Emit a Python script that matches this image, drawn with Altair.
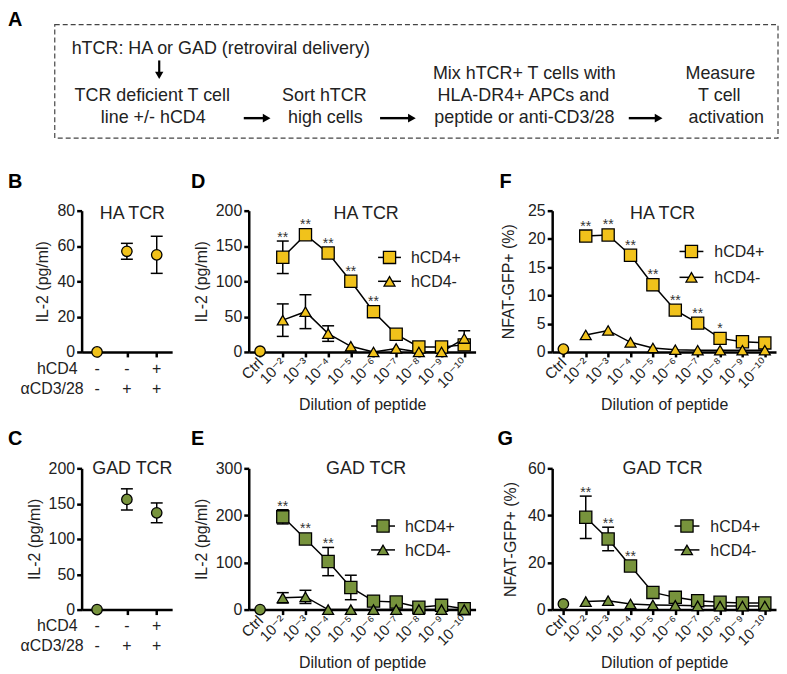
import altair as alt
import pandas as pd

FONT = "Liberation Sans, Arial, Helvetica, DejaVu Sans, sans-serif"
INK = "#222222"
YELLOW = "#F1C21B"
GREEN = "#77933C"

# ---------------- data ----------------
dilutions = ["Ctrl", "10⁻²", "10⁻³", "10⁻⁴", "10⁻⁵", "10⁻⁶", "10⁻⁷", "10⁻⁸", "10⁻⁹", "10⁻¹⁰"]
series_labels = ["hCD4+", "hCD4-"]

stim_hcd4 = ["-", "-", "+"]
stim_acd3 = ["-", "+", "+"]
b_il2 = [0, 57, 55]
b_il2_err = [0, 4.5, 10.5]
c_il2 = [0, 156, 137]
c_il2_err = [0, 15, 14]

d_ctrl = 1
d_plus = [134, 166, 140, 100, 57, 25, 7, 7, 10]
d_plus_err = [23, 3, 5, 5, 3, 3, 2, 2, 4]
d_minus = [45, 57, 26, 8, 0, 5, 0, 0, 19]
d_minus_err = [23, 24, 11, 3, 1, 2, 1, 1, 11]
d_stars = ["**", "**", "**", "**", "**", "", "", "", ""]

e_ctrl = 0
e_plus = [197, 150, 102, 47, 18, 16, 5, 9, 2]
e_plus_err = [15, 5, 30, 26, 5, 5, 3, 3, 2]
e_minus = [25, 27, 0, 0, 0, 0, 0, 0, 0]
e_minus_err = [11, 14, 1, 1, 1, 1, 1, 1, 1]
e_stars = ["**", "**", "**", "", "", "", "", "", ""]

f_ctrl = 0.5
f_plus = [20.5, 20.7, 17.1, 11.9, 7.4, 5.1, 2.4, 1.8, 1.6]
f_plus_err = [0.4, 0.4, 0.5, 1.0, 0.5, 0.4, 0.3, 0.2, 0.2]
f_minus = [3.0, 3.8, 1.7, 0.7, 0.4, 0.3, 0.3, 0.3, 0.3]
f_minus_err = [0.2, 0.2, 0.2, 0.1, 0.1, 0.1, 0.1, 0.1, 0.1]
f_stars = ["**", "**", "**", "**", "**", "**", "*", "", ""]

g_ctrl = 2.4
g_plus = [39.2, 30, 18.5, 7.3, 5.2, 3.8, 3.1, 2.8, 2.8]
g_plus_err = [9, 5, 2.2, 0.6, 0.4, 0.3, 0.3, 0.3, 0.3]
g_minus = [3.4, 3.8, 2.4, 2.0, 1.8, 1.6, 1.5, 1.5, 1.5]
g_minus_err = [0.3, 0.3, 0.3, 0.2, 0.2, 0.2, 0.2, 0.2, 0.2]
g_stars = ["**", "**", "**", "", "", "", "", "", ""]

diagram_text = ["hTCR: HA or GAD (retroviral delivery)",
                "TCR deficient T cell", "line +/- hCD4",
                "Sort hTCR", "high cells",
                "Mix hTCR+ T cells with", "HLA-DR4+ APCs and", "peptide or anti-CD3/28",
                "Measure", "T cell", "activation"]
panel_letters = ["A", "B", "C", "D", "E", "F", "G"]
panel_titles = ["HA TCR", "HA TCR", "HA TCR", "GAD TCR", "GAD TCR", "GAD TCR"]

# ---------------- layout (page pixel coordinates) ----------------
SIZE = {"square": 150, "triangle-up": 120, "circle": 110}
COLW = [91, 228, 225]
ROWH = 142
PX0, PY0, PW, PH = 82, 53, 91, 40

diag_pos = [(72, 53, "left"),
            (153, 100, "center"), (154, 122, "center"),
            (326, 100, "center"), (327, 122, "center"),
            (527, 78, "center"), (526, 100, "center"), (527, 122, "center"),
            (724, 78, "center"), (723, 100, "center"), (730, 122, "center")]
h_arrows = [(245, 272, 117), (382, 418, 117), (632, 666, 117)]
v_arrow = (160, 59, 78)
box = (55, 23, 782, 137)
letter_pos = [(8, 8), (8, 187), (8, 446), (192, 187), (192, 446), (502, 187), (500, 446)]
title_pos = [(133, 218), (368, 218), (666, 218), (133, 475), (368, 475), (666, 475)]
legend_pos = [  # x1, x2, y(+), y(-), text x, colour
    (380, 403, 257, 281, 413, YELLOW),
    (683, 707, 251, 277, 718, YELLOW),
    (373, 397, 527, 551, 407, GREEN),
    (678, 703, 527, 551, 714, GREEN),
]


def px(field):
    return alt.X(f"{field}:Q", scale=alt.Scale(domain=[PX0, PX0 + PW], nice=False, zero=False), axis=None)


def py(field):
    return alt.Y(f"{field}:Q", scale=alt.Scale(domain=[PY0 + PH, PY0], nice=False, zero=False), axis=None)


# ---------------- page-level annotation chart (panel A etc.) ----------------
anchor_df = pd.DataFrame({"x": [8], "x2": [9], "y": [8], "y2": [9]})
anchor = alt.Chart(anchor_df).mark_rect(opacity=0).encode(
    x=px("x"), x2="x2:Q", y=py("y"), y2="y2:Q")

box_df = pd.DataFrame({"x": [box[0]], "x2": [box[2]], "y": [box[1]], "y2": [box[3]]})
box_layer = alt.Chart(box_df).mark_rect(fillOpacity=0, stroke="#444444", strokeWidth=1.2,
                                        strokeDash=[5, 3]).encode(
    x=px("x"), x2="x2:Q", y=py("y"), y2="y2:Q")

dt = pd.DataFrame({"t": diagram_text,
                   "x": [p[0] for p in diag_pos],
                   "y": [p[1] for p in diag_pos],
                   "al": [p[2] for p in diag_pos]})
diag_left = alt.Chart(dt[dt.al == "left"]).mark_text(
    align="left", baseline="alphabetic", fontSize=18, color=INK).encode(
    x=px("x"), y=py("y"), text="t:N")
diag_center = alt.Chart(dt[dt.al == "center"]).mark_text(
    align="center", baseline="alphabetic", fontSize=18, color=INK).encode(
    x=px("x"), y=py("y"), text="t:N")

ar_df = pd.DataFrame({"x": [a[0] for a in h_arrows], "x2": [a[1] - 6 for a in h_arrows],
                      "xh": [a[1] - 4 for a in h_arrows], "y": [a[2] for a in h_arrows]})
ar_lines = alt.Chart(ar_df).mark_rule(color="black", strokeWidth=2.4).encode(
    x=px("x"), x2="x2:Q", y=py("y"))
ar_heads = alt.Chart(ar_df).mark_point(shape="triangle-right", filled=True, opacity=1,
                                       color="black", size=80).encode(x=px("xh"), y=py("y"))
va_df = pd.DataFrame({"x": [v_arrow[0]], "y": [v_arrow[1]], "y2": [v_arrow[2] - 6],
                      "yh": [v_arrow[2] - 4]})
va_line = alt.Chart(va_df).mark_rule(color="black", strokeWidth=2.2).encode(
    x=px("x"), y=py("y"), y2="y2:Q")
va_head = alt.Chart(va_df).mark_point(shape="triangle-down", filled=True, opacity=1,
                                      color="black", size=70).encode(x=px("x"), y=py("yh"))

let_df = pd.DataFrame({"t": panel_letters, "x": [p[0] for p in letter_pos],
                       "y": [p[1] for p in letter_pos]})
let_top = alt.Chart(let_df.iloc[:1]).mark_text(
    align="left", baseline="top", fontSize=20, fontWeight="bold", color="black").encode(
    x=px("x"), y=py("y"), text="t:N")
let_rest = alt.Chart(let_df.iloc[1:]).mark_text(
    align="left", baseline="alphabetic", fontSize=20, fontWeight="bold", color="black").encode(
    x=px("x"), y=py("y"), text="t:N")

tit_df = pd.DataFrame({"t": panel_titles, "x": [p[0] for p in title_pos],
                       "y": [p[1] for p in title_pos]})
titles = alt.Chart(tit_df).mark_text(align="center", baseline="alphabetic", fontSize=18,
                                     color=INK).encode(x=px("x"), y=py("y"), text="t:N")

leg_rows = []
for (x1, x2, yp, ym, xt, col) in legend_pos:
    for lab, yy, shp in zip(series_labels, [yp, ym], ["square", "triangle-up"]):
        leg_rows.append({"x": x1, "x2": x2, "xm": (x1 + x2) / 2, "y": yy, "xt": xt,
                         "label": lab, "shape": shp, "fill": col, "msize": SIZE[shp]})
leg_df = pd.DataFrame(leg_rows)
leg_lines = alt.Chart(leg_df).mark_rule(color="black", strokeWidth=1.5).encode(
    x=px("x"), x2="x2:Q", y=py("y"))
leg_marks = alt.Chart(leg_df).mark_point(filled=True, opacity=1, stroke="black",
                                         strokeWidth=1.3).encode(
    x=px("xm"), y=py("y"), shape=alt.Shape("shape:N", scale=None),
    fill=alt.Fill("fill:N", scale=None), size=alt.Size("msize:Q", scale=None))
leg_text = alt.Chart(leg_df).mark_text(align="left", baseline="middle", fontSize=16,
                                       dy=1, color=INK).encode(
    x=px("xt"), y=py("y"), text="label:N")

page = alt.layer(anchor, box_layer, diag_left, diag_center, ar_lines, ar_heads, va_line,
                 va_head, let_top, let_rest, titles, leg_lines, leg_marks, leg_text
                 ).properties(width=PW, height=PH)


def empty(w):
    return alt.Chart(pd.DataFrame({"v": [0]})).mark_point(opacity=0).encode(
        x=alt.X("v:Q", axis=None), y=alt.Y("v:Q", axis=None)).properties(width=w, height=PH)


# ---------------- panels B / C ----------------
def stim_panel(vals, errs, color, ymax, yticks, tpad):
    h = ROWH
    ppu = h / ymax
    cats = ["k0", "k1", "k2"]
    df = pd.DataFrame({
        "cat": cats, "val": vals,
        "lo": [v - e for v, e in zip(vals, errs)],
        "hi": [v + e for v, e in zip(vals, errs)],
        "cap": [e * ppu > 5 for e in errs],
        "hcd4": stim_hcd4, "acd3": stim_acd3,
    })
    X = alt.X("cat:N", scale=alt.Scale(type="point", domain=cats, padding=0.517),
              axis=alt.Axis(labels=False, title=None))
    yax = alt.Axis(title="IL-2 (pg/ml)", values=yticks, titlePadding=tpad)

    def Y(f):
        return alt.Y(f"{f}:Q", scale=alt.Scale(domain=[0, ymax], nice=False), axis=yax)

    base = alt.Chart(df)
    err = base.transform_filter("datum.cap").mark_rule(color="black", strokeWidth=1.5).encode(
        x=X, y=Y("lo"), y2="hi:Q")
    cap_hi = base.transform_filter("datum.cap").mark_tick(
        orient="horizontal", size=12, thickness=1.5, color="black", opacity=1).encode(x=X, y=Y("hi"))
    cap_lo = base.transform_filter("datum.cap").mark_tick(
        orient="horizontal", size=12, thickness=1.5, color="black", opacity=1).encode(x=X, y=Y("lo"))
    pts = base.mark_point(filled=True, opacity=1, fill=color, stroke="black", strokeWidth=1.3,
                          shape="circle", size=SIZE["circle"]).encode(x=X, y=Y("val"))
    r1 = base.mark_text(fontSize=16, baseline="middle", color=INK).encode(
        x=X, y=alt.value(h + 17), text="hcd4:N")
    r2 = base.mark_text(fontSize=16, baseline="middle", color=INK).encode(
        x=X, y=alt.value(h + 37), text="acd3:N")
    hd = pd.DataFrame({"t": ["hCD4", "αCD3/28"], "k": [0, 1]})
    h1 = alt.Chart(hd.iloc[:1]).mark_text(fontSize=16, align="right", baseline="middle",
                                         color=INK).encode(
        x=alt.value(-4), y=alt.value(h + 17), text="t:N")
    h2 = alt.Chart(hd.iloc[1:]).mark_text(fontSize=16, align="right", baseline="middle",
                                         color=INK).encode(
        x=alt.value(2), y=alt.value(h + 37), text="t:N")
    return alt.layer(err, cap_hi, cap_lo, pts, r1, r2, h1, h2).properties(width=COLW[0], height=h)


# ---------------- dilution panels ----------------
def dil_panel(ctrl, plus, plus_err, minus, minus_err, stars, color, ymax, yticks, ytitle,
              width, tpad):
    h = ROWH
    ppu = h / ymax
    rows = [dict(cat=dilutions[0], idx=0, series="ctrl", val=ctrl, lo=ctrl, hi=ctrl,
                 cap=False, shape="circle", msize=SIZE["circle"], star="", anchor=ctrl)]
    for i, c in enumerate(dilutions[1:]):
        for ser, v, e, shp in [("plus", plus[i], plus_err[i], "square"),
                               ("minus", minus[i], minus_err[i], "triangle-up")]:
            rows.append(dict(cat=c, idx=i + 1, series=ser, val=v, lo=max(0, v - e), hi=v + e,
                             cap=e * ppu > 5, shape=shp, msize=SIZE[shp],
                             star=stars[i] if ser == "plus" else "",
                             anchor=max(v + e, v + 6.5 / ppu)))
    df = pd.DataFrame(rows)
    X = alt.X("cat:N", scale=alt.Scale(type="point", domain=dilutions, padding=0.5),
              axis=alt.Axis(title="Dilution of peptide", labelAngle=315, labelAlign="right",
                            labelBaseline="middle", labelFontSize=15, labelPadding=3,
                            titlePadding=6))
    yax = alt.Axis(title=ytitle, values=yticks, titlePadding=tpad, labelFontSize=16)

    def Y(f):
        return alt.Y(f"{f}:Q", scale=alt.Scale(domain=[0, ymax], nice=False), axis=yax)

    base = alt.Chart(df)
    line = base.transform_filter("datum.series != 'ctrl'").mark_line(
        color="black", strokeWidth=1.5).encode(x=X, y=Y("val"), detail="series:N",
                                               order="idx:Q")
    err = base.transform_filter("datum.hi > datum.lo").mark_rule(
        color="black", strokeWidth=1.5).encode(x=X, y=Y("lo"), y2="hi:Q")
    cap_hi = base.transform_filter("datum.cap").mark_tick(
        orient="horizontal", size=12, thickness=1.5, color="black", opacity=1).encode(x=X, y=Y("hi"))
    cap_lo = base.transform_filter("datum.cap").mark_tick(
        orient="horizontal", size=12, thickness=1.5, color="black", opacity=1).encode(x=X, y=Y("lo"))
    pts = base.mark_point(filled=True, opacity=1, fill=color, stroke="black",
                          strokeWidth=1.3).encode(
        x=X, y=Y("val"), shape=alt.Shape("shape:N", scale=None),
        size=alt.Size("msize:Q", scale=None))
    st = base.transform_filter("datum.star != ''").mark_text(
        fontSize=14, baseline="alphabetic", dy=1, color="#333333").encode(
        x=X, y=Y("anchor"), text="star:N")
    return alt.layer(line, err, cap_hi, cap_lo, pts, st).properties(width=width, height=h)


B = stim_panel(b_il2, b_il2_err, YELLOW, 80, [0, 20, 40, 60, 80], 6)
C = stim_panel(c_il2, c_il2_err, GREEN, 200, [0, 50, 100, 150, 200], 6)
D = dil_panel(d_ctrl, d_plus, d_plus_err, d_minus, d_minus_err, d_stars, YELLOW, 200,
              [0, 50, 100, 150, 200], "IL-2 (pg/ml)", COLW[1], 6)
E = dil_panel(e_ctrl, e_plus, e_plus_err, e_minus, e_minus_err, e_stars, GREEN, 300,
              [0, 100, 200, 300], "IL-2 (pg/ml)", COLW[1], 6)
F = dil_panel(f_ctrl, f_plus, f_plus_err, f_minus, f_minus_err, f_stars, YELLOW, 25,
              [0, 5, 10, 15, 20, 25], "NFAT-GFP+ (%)", COLW[2], 11)
G = dil_panel(g_ctrl, g_plus, g_plus_err, g_minus, g_minus_err, g_stars, GREEN, 60,
              [0, 20, 40, 60], "NFAT-GFP+ (%)", COLW[2], 9)

chart = alt.concat(page, empty(COLW[1]), empty(COLW[2]), B, D, F, C, E, G,
                   columns=3, bounds="flush", spacing={"row": 117, "column": 77}
                   ).properties(padding=0).configure(font=FONT).configure_view(
    stroke=None).configure_axis(
    grid=False, domainColor="black", domainWidth=2.5, tickColor="black", tickWidth=2.5,
    tickSize=5, labelFont=FONT, labelFontSize=16, labelColor=INK, labelPadding=2,
    titleFont=FONT, titleFontSize=16, titleFontWeight="normal", titleColor=INK)

chart.save("out.html", embed_options={"renderer": "svg", "actions": False})
